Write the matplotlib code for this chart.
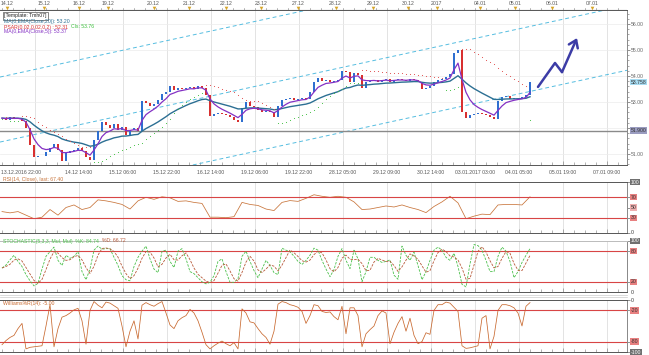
import numpy as np
import pandas as pd
import matplotlib
matplotlib.use("Agg")
import matplotlib.pyplot as plt
from matplotlib.ticker import MultipleLocator

plt.rcParams["font.family"] = ["Liberation Sans", "DejaVu Sans"]

W, H = 649, 355

# closing prices per bar
close = [52.38, 52.31, 52.42, 52.35, 52.38, 52.27, 52.00, 51.35, 50.88, 50.92,
         50.92, 51.08, 51.23, 51.38, 51.15, 50.73, 51.04, 51.12, 51.15, 51.23,
         51.12, 50.88, 50.77, 51.54, 51.88, 52.23, 52.12, 52.00, 52.15, 51.92,
         52.04, 51.73, 51.92, 52.00, 51.88, 53.04, 52.96, 52.85, 52.92, 53.08,
         53.31, 53.38, 53.62, 53.46, 53.54, 53.50, 53.54, 53.58, 53.50, 53.62,
         53.54, 53.27, 52.46, 52.54, 52.58, 52.54, 52.50, 52.42, 52.31, 52.23,
         52.77, 53.00, 52.85, 52.81, 52.69, 52.62, 52.65, 52.62, 52.42, 52.85,
         53.08, 53.12, 53.15, 53.08, 53.12, 53.15, 53.12, 53.38, 53.77, 53.92,
         53.81, 53.85, 53.77, 53.81, 53.85, 54.19, 54.15, 53.77, 54.12, 54.04,
         53.54, 53.77, 53.81, 53.85, 53.77, 53.85, 53.88, 53.77, 53.85, 53.88,
         53.85, 53.81, 53.88, 53.85, 53.77, 53.50, 53.54, 53.62, 53.77, 53.85,
         53.88, 53.96, 54.08, 54.88, 55.00, 52.62, 52.38, 52.50, 52.54, 52.58,
         52.54, 52.50, 52.42, 52.35, 53.04, 53.19, 53.23, 53.12, 53.15, 53.15,
         53.19, 53.27, 53.758]

# RSI(14), one reading every second bar
rsi_vals = [42, 39.5, 42, 35, 28, 31, 46, 35, 50, 55, 46, 50, 65, 63, 60, 56, 47,
            63, 70, 66, 71, 69, 62, 63, 60, 58, 31, 31, 30, 32, 60, 56, 54, 47,
            44, 60, 63.6, 62, 68, 75, 72, 70, 72, 70, 61, 46, 47, 50, 53, 51, 55,
            50, 46, 40, 52, 61, 72, 59, 28, 33, 37, 36, 55, 56, 56, 55, 71]

# Stochastic %K, one reading per bar
stoch_k = [47, 53, 63, 72, 60, 50, 34, 22, 12, 17, 45, 70, 79, 88, 62, 52, 72, 66,
           70, 79, 40, 24, 45, 82, 90, 84, 85, 85, 68, 52, 32, 24, 22, 50, 68, 80,
           90, 65, 45, 38, 80, 82, 60, 48, 80, 85, 65, 40, 36, 28, 20, 16, 19, 32,
           60, 65, 40, 19, 19, 26, 70, 80, 60, 42, 28, 45, 62, 52, 38, 34, 86, 82,
           79, 70, 60, 54, 62, 72, 86, 82, 62, 45, 30, 44, 70, 85, 62, 46, 82, 65,
           20, 40, 68, 68, 62, 58, 60, 63, 33, 25, 90, 72, 62, 78, 52, 24, 40, 62,
           82, 88, 82, 68, 62, 76, 50, 15, 10, 55, 93, 91, 82, 62, 40, 40, 70, 88,
           80, 60, 28, 40, 58, 72, 85]

# Williams %R(14), one reading per bar
williams = [-86, -78, -72, -68, -55, -45, -94, -91, -90, -89, -88, -50, -9, -90,
            -55, -33, -30, -25, -19, -16, -40, -85, -20, -3, -10, -15, -4, -6, -11,
            -16, -50, -90, -60, -40, -75, -10, -5, -9, -12, -7, -3, -25, -48, -55,
            -40, -34, -30, -18, -25, -40, -62, -86, -94, -88, -83, -79, -84, -88,
            -82, -94, -17, -25, -42, -44, -55, -65, -72, -85, -60, -8, -3, -5, -9,
            -11, -14, -22, -45, -30, -9, -11, -22, -24, -23, -32, -38, -12, -65,
            -15, -15, -30, -90, -65, -57, -50, -30, -21, -25, -84, -62, -45, -32,
            -60, -35, -68, -84, -80, -63, -66, -20, -9, -9, -4, -6, -14, -22, -88,
            -93, -92, -90, -88, -35, -30, -94, -70, -20, -9, -9, -11, -15, -25,
            -50, -12, -5]

# top calendar strip (bar index where each day label sits)
day_labels = ["14.12", "15.12", "16.12", "19.12", "20.12", "21.12", "22.12", "23.12",
              "27.12", "28.12", "29.12", "30.12", "2017", "04.01", "05.01", "06.01", "07.01"]
day_bars = [1.2, 10.5, 19.3, 26.5, 37.9, 46.7, 56.0, 64.8, 74.1, 83.4, 92.7, 101.5,
            108.7, 119.6, 128.3, 137.6, 147.5]

# bottom time axis
time_labels = ["13.12.2016 22:00", "14.12 14:00", "15.12 06:00", "15.12 22:00", "16.12 14:00",
               "19.12 06:00", "19.12 22:00", "28.12 05:00", "29.12 09:00", "30.12 14:00",
               "03.01.2017 03:00", "04.01 05:00", "05.01 19:00", "07.01 09:00"]
grid_bars = [8.25 + 11 * k for k in range(14)]

# drawn objects
hline_price = 51.90
chan_left = [53.96, 51.46, 48.96]
chan_right = [59.22, 56.72, 54.22]
arrow_bars = [134.0, 138.25, 140.0, 143.75]
arrow_prices = [53.58, 54.50, 54.15, 55.46]
price_ticks = [51, 52, 53, 54, 55, 56]

c = np.array(close)
op = np.r_[c[0], c[:-1]]
hi = np.maximum(op, c)
lo = np.minimum(op, c)
idx = np.arange(len(c))
s = pd.Series(c)

ema5 = s.ewm(span=5, adjust=False).mean().values
ema20 = s.ewm(span=20, adjust=False).mean().values
stoch_d = pd.Series(stoch_k).rolling(3, min_periods=1).mean().values


def psar(hi, lo, step=0.02, amax=0.2):
    n = len(hi)
    sar = np.zeros(n)
    bull = np.zeros(n, bool)
    b, af, ep = True, step, hi[0]
    sar[0] = lo[0]
    bull[0] = True
    for i in range(1, n):
        v = sar[i-1] + af * (ep - sar[i-1])
        if b:
            v = min(v, lo[i-1], lo[max(i-2, 0)])
            if lo[i] < v:
                b, v, ep, af = False, ep, lo[i], step
            elif hi[i] > ep:
                ep, af = hi[i], min(af + step, amax)
        else:
            v = max(v, hi[i-1], hi[max(i-2, 0)])
            if hi[i] > v:
                b, v, ep, af = True, ep, hi[i], step
            elif lo[i] < ep:
                ep, af = lo[i], min(af + step, amax)
        sar[i] = v
        bull[i] = b
    return sar, bull


sar, bull = psar(hi + 0.04, lo - 0.04)

XL = (-0.5, 156.25)
FS = 3.7
GRID = "#dedede"
AX = "#666666"


def rect(x0, y0, x1, y1):
    return [x0 / W, 1 - y1 / H, (x1 - x0) / W, (y1 - y0) / H]


def ftext(x, y, s, **kw):
    return fig.text(x / W, 1 - y / H, s, fontsize=FS, va="center", **kw)


def ftext_after(prev, y, s, **kw):
    bb = prev.get_window_extent(fig.canvas.get_renderer())
    return fig.text((bb.x1 + 3) / W, 1 - y / H, s, fontsize=FS, va="center", **kw)


def style(ax):
    ax.set_xlim(*XL)
    ax.spines["left"].set_visible(False)
    ax.spines["top"].set_color("#555555")
    ax.spines["bottom"].set_color("#555555")
    ax.spines["right"].set_color("#888888")
    for sp in ax.spines.values():
        sp.set_linewidth(0.7)
    ax.yaxis.tick_right()
    ax.tick_params(axis="y", length=2, width=0.5, colors=AX, labelsize=FS, pad=1)
    ax.set_xticks(grid_bars)
    ax.xaxis.set_minor_locator(MultipleLocator(2.75))
    ax.tick_params(axis="x", which="both", direction="in", length=2, width=0.4,
                   colors="#777777", labelbottom=False)
    ax.tick_params(axis="x", which="major", length=3)
    ax.grid(axis="x", color=GRID, lw=0.6)
    ax.set_axisbelow(True)


def rlabel(ax, y, s, fc=None, tc="#333333"):
    kw = {}
    if fc:
        kw["bbox"] = dict(boxstyle="square,pad=0.12", fc=fc, ec="none")
    ax.text(1.006, y, s, transform=ax.get_yaxis_transform(), fontsize=FS,
            va="center", ha="left", color=tc, clip_on=False, zorder=10, **kw)


fig = plt.figure(figsize=(W / 100, H / 100), dpi=100)
fig.patch.set_facecolor("white")

# calendar strip
axs = fig.add_axes(rect(0, 0, 627, 10))
axs.set_xlim(*XL)
axs.set_ylim(0, 1)
axs.axis("off")
axs.axhline(0, color="#555555", lw=0.8)
for b in np.arange(0, 157, 2.75):
    axs.plot([b, b], [0, 0.25], color="#777777", lw=0.4)
for b, lab in zip(day_bars, day_labels):
    axs.text(b, 0.62, lab, ha="center", va="center", fontsize=FS, color="#555555")
    axs.plot([b], [0.18], marker="v", ms=2.6, color="#d6a52a", mec="none")

# main price panel
ax = fig.add_axes(rect(0, 10, 627, 165))
style(ax)
ax.set_ylim(54 - 89 / 26, 54 + 66 / 26)
ax.set_yticks(price_ticks)
# the 52.00 label sits under the horizontal-line marker, so it is left blank
ax.set_yticklabels(["" if abs(p - hline_price) < 0.3 else "%.2f" % p for p in price_ticks])
ax.yaxis.set_minor_locator(MultipleLocator(0.2))
ax.tick_params(axis="y", which="minor", length=1.5, width=0.4, colors=AX)
ax.grid(axis="y", color="#ececec", lw=0.5)

for l, r in zip(chan_left, chan_right):
    ax.plot(XL, [l, r], color="#55bde0", lw=0.7, ls=(0, (4, 3)))
ax.axhline(hline_price, color="#8a8a8a", lw=1.0)

cols = np.where(c >= op, "#2f6fd0", "#d83030")
ax.bar(idx, np.maximum(hi - lo, 0.02), bottom=lo, width=0.5, color=cols, lw=0, zorder=3)
ax.plot(idx, ema20, color="#2c6f93", lw=1.0, zorder=4)
ax.plot(idx, ema5, color="#8431c4", lw=0.9, zorder=5)
ax.scatter(idx[~bull], sar[~bull], s=0.6, color="#e04848", lw=0, zorder=4)
ax.scatter(idx[bull], sar[bull], s=0.6, color="#3cbf3c", lw=0, zorder=4)

ax.plot(arrow_bars[:3], arrow_prices[:3], color="#3c3ca6", lw=1.8, solid_capstyle="round")
ax.annotate("", xy=(arrow_bars[3], arrow_prices[3]), xytext=(arrow_bars[2], arrow_prices[2]),
            arrowprops=dict(arrowstyle="->,head_length=0.5,head_width=0.35",
                            color="#3c3ca6", lw=1.8, shrinkA=0, shrinkB=0))

rlabel(ax, close[-1], "%.3f" % close[-1], fc="#a8dcf2")
rlabel(ax, hline_price, "%.3f" % hline_price, fc="#9a9cc0")

for gb, lab in zip(grid_bars, time_labels):
    if lab.startswith("13.12"):
        ax.text(-0.3, -0.035, lab, transform=ax.get_xaxis_transform(), ha="left", va="top",
                fontsize=FS, color="#555555")
    else:
        ax.text(gb, -0.035, lab, transform=ax.get_xaxis_transform(), ha="center", va="top",
                fontsize=FS, color="#555555")

ftext(4, 16, "[Template: Tmh07]", color="#222222",
      bbox=dict(boxstyle="square,pad=0.25", fc="white", ec="#555555", lw=0.5))
ftext(4, 22, "MA(0,EMA(Close,20)): %.2f" % ema20[-1], color="#2c6f93")
t = ftext(4, 27, "PSAR(0.02,0.02,0.2) : %.2f" % sar[-1], color="#d83030")
ftext_after(t, 27, "Cls: %.2f" % close[-1], color="#3cbf3c")
ftext(4, 32, "MA(0,EMA(Close,5)): %.2f" % ema5[-1], color="#8431c4")

# RSI
ar = fig.add_axes(rect(0, 182, 627, 233))
style(ar)
ar.set_ylim(0, 100)
ar.set_yticks([0, 30, 50, 70, 100])
ar.set_yticklabels([])
ar.plot(np.arange(len(rsi_vals)) * 2, rsi_vals, color="#c8743a", lw=0.55)
for lv in (30, 70):
    ar.axhline(lv, color="#d84545", lw=0.8)
rlabel(ar, 100, "100", fc="#707070", tc="white")
rlabel(ar, 70, "70", fc="#e88080")
rlabel(ar, 50, "50", fc="#f0b0b0")
rlabel(ar, 30, "30", fc="#e88080")
rlabel(ar, 0, "0")
ftext(3, 179.5, "RSI(14, Close), last: 67.40", color="#c8743a")

# Stochastic
ak = fig.add_axes(rect(0, 241, 627, 292))
style(ak)
ak.set_ylim(0, 100)
ak.set_yticks([20, 80, 100])
ak.set_yticklabels([])
ak.spines["top"].set_color("#bbbbbb")
for lv in (20, 80):
    ak.axhline(lv, color="#d84545", lw=0.8)
ak.plot(np.arange(len(stoch_k)), stoch_k, color="#4cc04c", lw=0.6, ls=(0, (3, 1.5)))
ak.plot(np.arange(len(stoch_d)), stoch_d, color="#b85a3a", lw=0.6, ls=(0, (3, 1.5)))
rlabel(ak, 100, "100", fc="#707070", tc="white")
rlabel(ak, 80, "80", fc="#e88080")
rlabel(ak, 20, "20", fc="#e88080")
t = ftext(3, 241, "STOCHASTIC(5,3,3, Mul, Mul)  %K: 84.74", color="#4cc04c")
ftext_after(t, 241, "%D: 66.72", color="#b85a3a")
rlabel(ak, 0, "0")

# Williams %R
aw = fig.add_axes(rect(0, 300, 627, 352))
style(aw)
aw.set_ylim(-100, 0)
aw.set_yticks([-100, -80, -20, 0])
aw.set_yticklabels([])
for lv in (-20, -80):
    aw.axhline(lv, color="#d84545", lw=0.8)
aw.plot(np.arange(len(williams)), williams, color="#c8682e", lw=0.55)
rlabel(aw, 0, "0")
rlabel(aw, -20, "-20", fc="#e88080")
rlabel(aw, -80, "-80", fc="#e88080")
rlabel(aw, -100, "-100", fc="#707070", tc="white")
ftext(3, 303, "Williams%R(14): -5.00", color="#c8682e")
for yy in (295, 297):
    fig.add_artist(plt.Line2D([0, 627 / W], [1 - yy / H] * 2, color="#cccccc", lw=0.5))

fig.savefig("out.png", dpi=100)
